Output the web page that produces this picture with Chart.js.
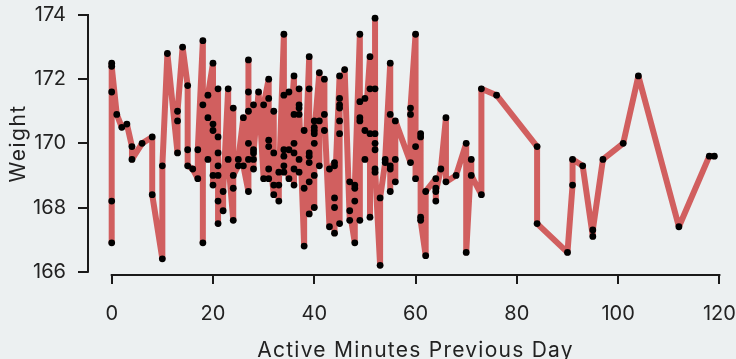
<!DOCTYPE html>
<html>
<head>
<meta charset="utf-8">
<script src="https://cdn.jsdelivr.net/npm/chart.js@4"></script>
<style>
  html, body { margin: 0; padding: 0; background: #ecf0f1; }
  #wrap { width: 736px; height: 359px; }
</style>
</head>
<body>
<div id="wrap"><canvas id="chart"></canvas></div>
<script>
// Active minutes (x) and weight (y), one row per minute value, in plotting order
var minutes = [
  0, 0, 0, 0, 0,
  1, 2, 3, 4, 4, 6, 8, 8, 10, 10, 11,
  13, 13, 13, 14, 15, 15, 15, 16, 17, 17, 18, 18, 18, 19, 19, 19,
  20, 20, 20, 20, 20,
  21, 21, 21, 21, 21, 21, 21,
  22, 22, 23, 23, 24, 24, 24, 24, 25, 25, 26, 26,
  27, 27, 27, 27, 27, 27,
  28, 28, 28, 28, 28, 29, 30, 30,
  31, 31, 31, 31, 31, 31,
  32, 32, 32, 32, 33, 33, 33,
  34, 34, 34, 34, 34, 34, 35, 35, 35,
  36, 36, 36, 36, 36, 36,
  37, 37, 37, 37, 37, 37, 38, 38, 38,
  39, 39, 39, 39, 39, 39, 39,
  40, 40, 40, 40, 40, 40, 40,
  41, 41, 41, 42, 42, 42, 43, 43,
  44, 44, 44, 44, 44,
  45, 45, 45, 45, 45, 45, 45,
  46, 47, 47, 47, 48, 48, 48, 48,
  49, 49, 49, 49, 49, 50, 50, 50,
  51, 51, 51, 51,
  52, 52, 52, 52, 52, 52, 52,
  53, 53, 54, 54,
  55, 55, 55, 55, 55, 56, 56, 56,
  59, 59, 59, 60, 60, 60, 61, 61, 61, 61, 62, 62,
  64, 64, 64, 64, 65, 66, 66, 68, 70, 70, 71, 71, 73, 73,
  76, 84, 84, 90, 91, 91, 93, 95, 95, 97, 101, 104, 112, 118, 119
];
var weights = [
  172.5, 166.9, 168.2, 171.6, 172.4,
  170.9, 170.5, 170.6, 169.9, 169.5, 170.0, 170.2, 168.4, 166.4, 169.3, 172.8,
  169.7, 170.7, 171.0, 173.0, 171.8, 169.8, 169.3, 169.2, 168.9, 169.8, 173.2, 166.9, 171.2, 170.8, 169.5, 171.5,
  172.5, 168.7, 170.6, 169.0, 170.4,
  171.7, 167.5, 170.2, 168.2, 169.7, 169.0, 169.3,
  167.9, 168.5, 171.7, 169.5, 167.6, 171.1, 168.6, 169.0, 169.3, 169.5, 170.8, 169.3,
  168.5, 172.6, 170.0, 171.6, 169.5, 171.0,
  171.2, 169.2, 169.8, 169.5, 169.7, 171.6, 168.9, 171.2,
  172.0, 168.9, 171.4, 169.2, 170.1, 169.9,
  168.4, 171.0, 168.7, 169.7, 168.2, 169.1, 168.7,
  173.4, 169.1, 171.5, 169.3, 169.8, 169.6, 168.9, 171.6, 169.8,
  172.1, 168.7, 170.9, 169.2, 170.0, 169.7,
  169.1, 171.7, 169.5, 171.2, 170.9, 171.1, 166.8, 170.4, 168.6,
  172.7, 167.8, 171.7, 168.8, 169.7, 169.4, 169.6,
  168.0, 170.7, 169.0, 170.5, 170.0, 170.4, 170.3,
  172.2, 169.3, 170.7, 170.4, 172.0, 170.9, 167.4, 169.2,
  169.4, 167.2, 169.3, 168.0, 168.3,
  172.1, 167.5, 171.4, 170.3, 171.2, 170.7, 171.1,
  172.3, 167.6, 168.8, 167.9, 166.9, 168.7, 168.2, 168.6,
  173.4, 167.6, 171.3, 170.7, 170.8, 169.5, 171.4, 170.4,
  172.7, 167.7, 171.7, 170.3,
  169.1, 173.9, 169.8, 171.7, 170.0, 170.3, 169.2,
  166.2, 168.3, 169.4, 169.5,
  172.5, 168.5, 169.3, 169.2, 170.9, 168.8, 169.5, 170.7,
  169.4, 170.9, 171.1, 173.4, 168.9, 169.9, 170.2, 170.3, 167.7, 167.6, 166.5, 168.5,
  168.9, 168.2, 168.6, 168.5, 169.2, 170.8, 168.8, 169.0, 170.0, 166.6, 169.5, 169.0, 168.4, 171.7,
  171.5, 169.9, 167.5, 166.6, 168.7, 169.5, 169.3, 167.1, 167.3, 169.5, 170.0, 172.1, 167.4, 169.6, 169.6
];
var xTicks = [0, 20, 40, 60, 80, 100, 120];
var yTicks = [166, 168, 170, 172, 174];
var xTitle = 'Active Minutes Previous Day';
var yTitle = 'Weight';

var points = minutes.map(function (m, i) {
  return { x: m, y: weights[i] };
});

var axisColor = '#1a1a1a';
var textColor = '#222';
var fontFamily = 'Inter, "Open Sans", sans-serif';

// trimmed spines plus the two axis titles (drawn here so they can be letter-spaced)
var axesDecor = {
  id: 'axesDecor',
  afterDraw: function (chart) {
    var ctx = chart.ctx;
    var xs = chart.scales.x, ys = chart.scales.y;
    var area = chart.chartArea;
    var yTop = ys.getPixelForValue(yTicks[yTicks.length - 1]);
    var yBot = ys.getPixelForValue(yTicks[0]);
    var xL = xs.getPixelForValue(xTicks[0]);
    var xR = xs.getPixelForValue(xTicks[xTicks.length - 1]);

    ctx.save();
    ctx.strokeStyle = axisColor;
    ctx.lineWidth = 2;
    ctx.beginPath();
    ctx.moveTo(area.left, yTop - 1);
    ctx.lineTo(area.left, yBot + 1);
    ctx.moveTo(xL - 1, area.bottom);
    ctx.lineTo(xR + 1, area.bottom);
    ctx.stroke();

    ctx.fillStyle = textColor;
    ctx.font = '21px ' + fontFamily;
    ctx.letterSpacing = '1.25px';
    ctx.textAlign = 'center';
    ctx.textBaseline = 'alphabetic';
    ctx.fillText(xTitle, (xL + xR) / 2, chart.height - 2.5);

    ctx.translate(area.left - 63, (yTop + yBot) / 2);
    ctx.rotate(-Math.PI / 2);
    ctx.letterSpacing = '1.5px';
    ctx.fillText(yTitle, 0, 0);
    ctx.restore();
  }
};

new Chart(document.getElementById('chart'), {
  type: 'line',
  data: {
    datasets: [{
      data: points,
      borderColor: '#d15f5f',
      borderWidth: 6,
      borderJoinStyle: 'round',
      borderCapStyle: 'round',
      pointRadius: 3.4,
      pointBackgroundColor: '#000',
      pointBorderWidth: 0,
      tension: 0,
      clip: false
    }]
  },
  options: {
    responsive: true,
    maintainAspectRatio: false,
    animation: false,
    events: [],
    layout: { padding: { top: 8, right: 10, left: 0, bottom: 0 } },
    plugins: { legend: { display: false }, tooltip: { enabled: false } },
    scales: {
      x: {
        type: 'linear',
        min: -4.68,
        max: 121.3,
        afterBuildTicks: function (scale) {
          scale.ticks = xTicks.map(function (v) { return { value: v }; });
        },
        afterFit: function (scale) {
          scale.height = 84;
          scale.paddingLeft = 0;
          scale.paddingRight = 0;
        },
        border: { display: false },
        grid: { drawOnChartArea: false, drawTicks: true, tickLength: 9, color: axisColor, lineWidth: 2 },
        ticks: { color: textColor, padding: 18, maxRotation: 0, font: { family: fontFamily, size: 20 } }
      },
      y: {
        min: 165.897,
        max: 174.218,
        afterBuildTicks: function (scale) {
          scale.ticks = yTicks.map(function (v) { return { value: v }; });
        },
        afterFit: function (scale) {
          scale.width = 88;
          scale.paddingTop = 0;
          scale.paddingBottom = 0;
        },
        border: { display: false },
        grid: { drawOnChartArea: false, drawTicks: true, tickLength: 10, color: axisColor, lineWidth: 2 },
        ticks: { color: textColor, padding: 12, font: { family: fontFamily, size: 20 } }
      }
    }
  },
  plugins: [axesDecor]
});
</script>
</body>
</html>
